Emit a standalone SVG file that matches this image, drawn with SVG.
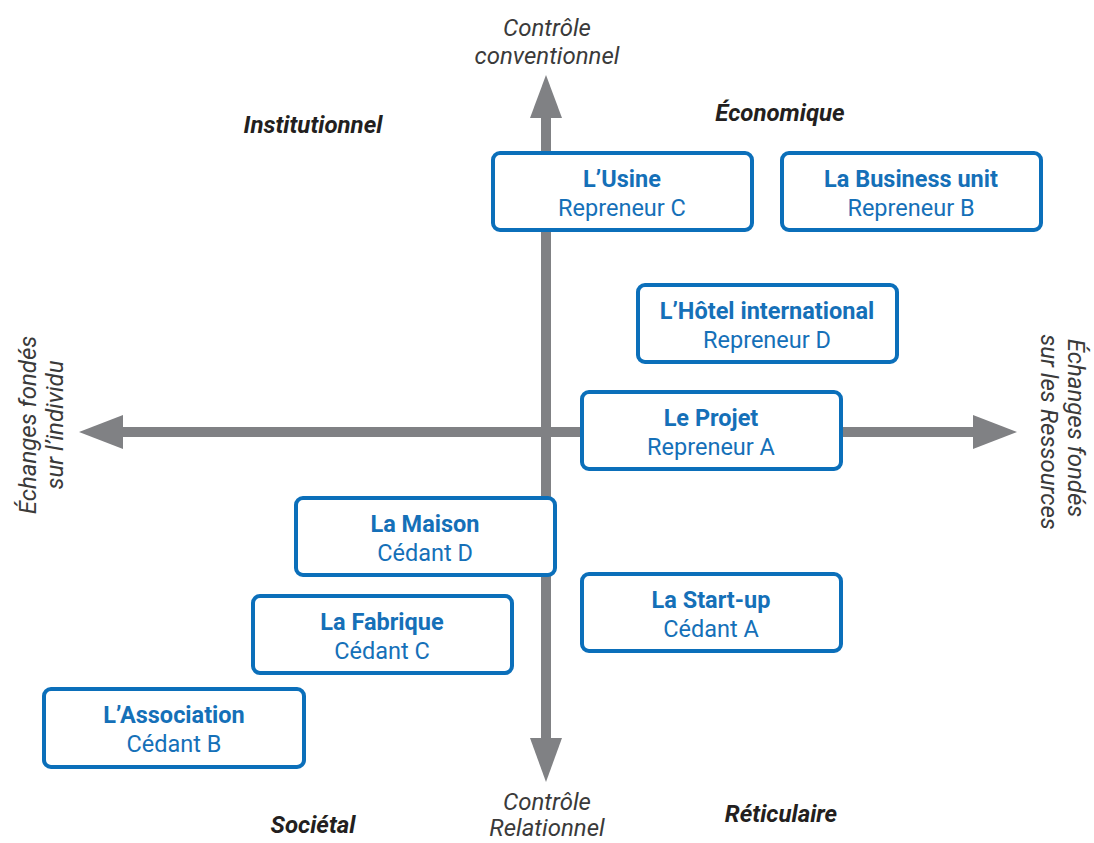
<svg xmlns="http://www.w3.org/2000/svg" width="1094" height="843" viewBox="0 0 1094 843">
<style>
.box{fill:#fff;stroke:#0b6fba;stroke-width:4}
.t{font-family:Roboto,"Liberation Sans",sans-serif;font-size:23.5px;fill:#1570b8;text-anchor:middle}
.b{font-weight:bold}
.ax{font-family:Roboto,"Liberation Sans",sans-serif;font-size:24px;font-style:italic;fill:#3a3a3a;text-anchor:middle}
.q{font-family:Roboto,"Liberation Sans",sans-serif;font-size:24px;font-style:italic;font-weight:bold;fill:#231f20;text-anchor:middle}
.arr{fill:#808184}
</style>
<g id="connectors">
<rect class="arr" x="541" y="116" width="10" height="624"/>
<polygon class="arr" points="546,75 530,118 562,118"/>
<polygon class="arr" points="546,782 530,738 562,738"/>
<rect class="arr" x="121" y="427" width="854" height="10"/>
<polygon class="arr" points="79,432 123,415 123,449"/>
<polygon class="arr" points="1017,432 973,415 973,449"/>
</g>
<g id="labels">
<text class="ax" x="547" y="36">Contrôle</text>
<text class="ax" x="547" y="64">conventionnel</text>
<text class="ax" x="547" y="810">Contrôle</text>
<text class="ax" x="547" y="836">Relationnel</text>
<text class="ax" transform="translate(36,425) rotate(-90)">Échanges fondés</text>
<text class="ax" transform="translate(63,425) rotate(-90)">sur l’individu</text>
<text class="ax" transform="translate(1068,428) rotate(90)">Échanges fondés</text>
<text class="ax" transform="translate(1041,432) rotate(90)">sur les Ressources</text>
<text class="q" x="313" y="133">Institutionnel</text>
<text class="q" x="780" y="121">Économique</text>
<text class="q" x="313" y="833">Sociétal</text>
<text class="q" x="781" y="822">Réticulaire</text>
</g>
<g id="usine"><rect class="box" x="493" y="153" width="259" height="77" rx="7"/><text class="t b" x="622" y="187">L’Usine</text><text class="t" x="622" y="216">Repreneur C</text></g>
<g id="business"><rect class="box" x="782" y="153" width="259" height="77" rx="7"/><text class="t b" x="911" y="187">La Business unit</text><text class="t" x="911" y="216">Repreneur B</text></g>
<g id="hotel"><rect class="box" x="638" y="285" width="259" height="77" rx="7"/><text class="t b" x="767" y="319">L’Hôtel international</text><text class="t" x="767" y="348">Repreneur D</text></g>
<g id="projet"><rect class="box" x="582" y="392" width="259" height="77" rx="7"/><text class="t b" x="711" y="426">Le Projet</text><text class="t" x="711" y="455">Repreneur A</text></g>
<g id="maison"><rect class="box" x="296" y="498" width="259" height="77" rx="7"/><text class="t b" x="425" y="532">La Maison</text><text class="t" x="425" y="561">Cédant D</text></g>
<g id="startup"><rect class="box" x="582" y="574" width="259" height="77" rx="7"/><text class="t b" x="711" y="608">La Start-up</text><text class="t" x="711" y="637">Cédant A</text></g>
<g id="fabrique"><rect class="box" x="253" y="596" width="259" height="77" rx="7"/><text class="t b" x="382" y="630">La Fabrique</text><text class="t" x="382" y="659">Cédant C</text></g>
<g id="association"><rect class="box" x="44" y="689" width="260" height="78" rx="7"/><text class="t b" x="174" y="723">L’Association</text><text class="t" x="174" y="752">Cédant B</text></g>
</svg>
